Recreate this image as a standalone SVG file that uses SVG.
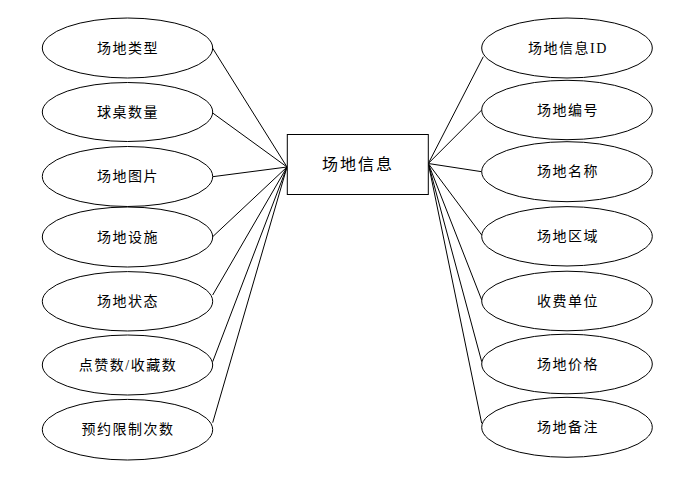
<svg xmlns="http://www.w3.org/2000/svg" width="700" height="483" viewBox="0 0 700 483">
<style>
.n{fill:#fff;stroke:#000;stroke-width:1}
.t{font-family:"Liberation Serif","Noto Sans CJK SC",sans-serif;font-size:14px;letter-spacing:1.5px;text-anchor:middle;dominant-baseline:central;fill:#000}
.c{stroke:#000;stroke-width:1;fill:none}
</style>
<rect width="700" height="483" fill="#fff"/>
<g id="connectors">
<line class="c" x1="287" y1="167" x2="212.7" y2="48.3"/>
<line class="c" x1="287" y1="167" x2="212.7" y2="113"/>
<line class="c" x1="287" y1="167" x2="212.7" y2="176.7"/>
<line class="c" x1="287" y1="167" x2="212.7" y2="236.7"/>
<line class="c" x1="287" y1="167" x2="212.7" y2="295"/>
<line class="c" x1="287" y1="167" x2="212.7" y2="361.7"/>
<line class="c" x1="287" y1="167" x2="212.7" y2="422.7"/>
<line class="c" x1="428.3" y1="163.5" x2="483.3" y2="56.7"/>
<line class="c" x1="428.3" y1="163.5" x2="481.7" y2="110"/>
<line class="c" x1="428.3" y1="163.5" x2="481.7" y2="171.7"/>
<line class="c" x1="428.3" y1="163.5" x2="481.7" y2="235"/>
<line class="c" x1="428.3" y1="163.5" x2="481.7" y2="300"/>
<line class="c" x1="428.3" y1="163.5" x2="481.7" y2="361.7"/>
<line class="c" x1="428.3" y1="163.5" x2="481.7" y2="423.3"/>
</g>
<g id="center"><rect class="n" x="287.3" y="134.5" width="141" height="60"/><text class="t" x="358" y="164.5" style="font-size:16px;letter-spacing:2px">场地信息</text></g>
<g id="l1"><ellipse class="n" cx="127.5" cy="48" rx="85.2" ry="30"/><text class="t" x="128" y="48">场地类型</text></g>
<g id="l2"><ellipse class="n" cx="127.5" cy="112" rx="85.2" ry="29.5"/><text class="t" x="128" y="112">球桌数量</text></g>
<g id="l3"><ellipse class="n" cx="127.5" cy="176.5" rx="85.2" ry="30"/><text class="t" x="128" y="176.5">场地图片</text></g>
<g id="l4"><ellipse class="n" cx="127.5" cy="237" rx="85.2" ry="30"/><text class="t" x="128" y="237">场地设施</text></g>
<g id="l5"><ellipse class="n" cx="127.5" cy="301.3" rx="85.2" ry="29.7"/><text class="t" x="128" y="301.3">场地状态</text></g>
<g id="l6"><ellipse class="n" cx="127.5" cy="365" rx="85.2" ry="30"/><text class="t" x="128" y="365">点赞数/收藏数</text></g>
<g id="l7"><ellipse class="n" cx="127.5" cy="429.7" rx="85.2" ry="30.3"/><text class="t" x="128" y="429.7">预约限制次数</text></g>
<g id="r1"><ellipse class="n" cx="567" cy="48" rx="85.3" ry="30"/><text class="t" x="568" y="48">场地信息ID</text></g>
<g id="r2"><ellipse class="n" cx="567" cy="110" rx="85.3" ry="29.7"/><text class="t" x="568" y="110">场地编号</text></g>
<g id="r3"><ellipse class="n" cx="567" cy="171.7" rx="85.3" ry="30"/><text class="t" x="568" y="171.7">场地名称</text></g>
<g id="r4"><ellipse class="n" cx="567" cy="236.3" rx="85.3" ry="29.7"/><text class="t" x="568" y="236.3">场地区域</text></g>
<g id="r5"><ellipse class="n" cx="567" cy="301" rx="85.3" ry="29.8"/><text class="t" x="568" y="301">收费单位</text></g>
<g id="r6"><ellipse class="n" cx="567" cy="364" rx="85.3" ry="29.8"/><text class="t" x="568" y="364">场地价格</text></g>
<g id="r7"><ellipse class="n" cx="567" cy="427.3" rx="85.3" ry="30"/><text class="t" x="568" y="427.3">场地备注</text></g>
</svg>
